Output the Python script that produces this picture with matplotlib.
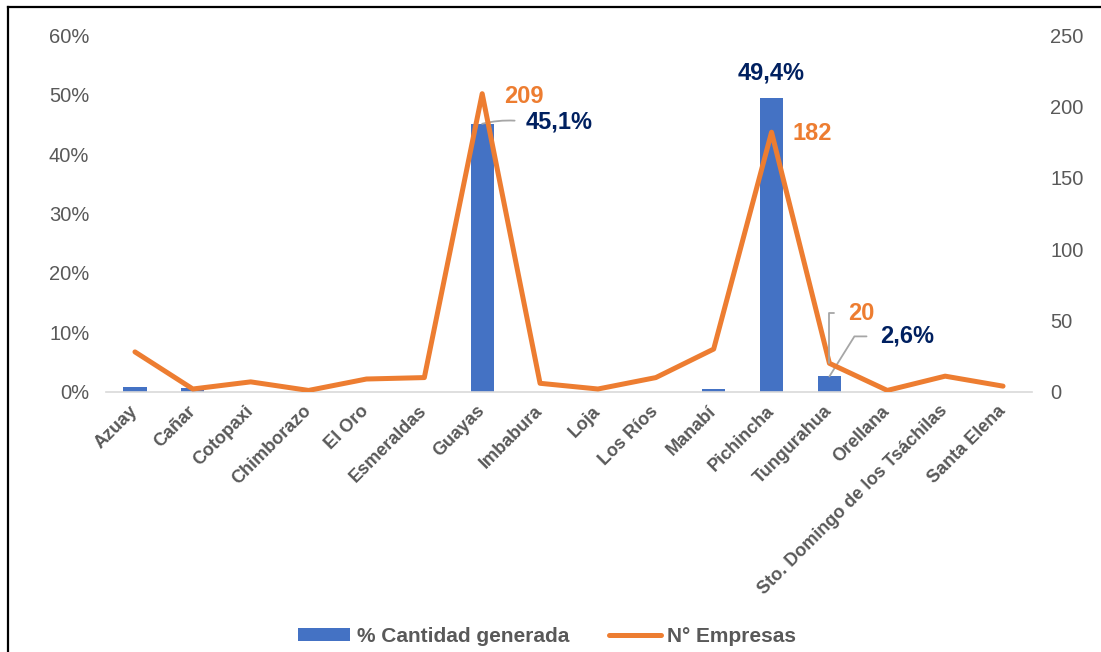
import matplotlib.pyplot as plt
from matplotlib.lines import Line2D
from matplotlib.ticker import FuncFormatter
import numpy as np

plt.rcParams['font.family'] = ['Liberation Sans', 'DejaVu Sans']

provincias = ['Azuay', 'Cañar', 'Cotopaxi', 'Chimborazo', 'El Oro', 'Esmeraldas',
              'Guayas', 'Imbabura', 'Loja', 'Los Ríos', 'Manabí', 'Pichincha',
              'Tungurahua', 'Orellana', 'Sto. Domingo de los Tsáchilas', 'Santa Elena']
pct_cantidad = [0.8, 0.6, 0.0, 0.0, 0.0, 0.0, 45.1, 0.0, 0.0, 0.0, 0.4, 49.4,
                2.6, 0.0, 0.0, 0.0]
n_empresas = [28, 2, 7, 1, 9, 10, 209, 6, 2, 10, 30, 182, 20, 1, 11, 4]

BLUE = '#4472C4'
ORANGE = '#ED7D31'
NAVY = '#002060'
GRAY = '#595959'
LEADER = '#A6A6A6'

fig = plt.figure(figsize=(11.01, 6.52), dpi=100)
ax = fig.add_axes([0.0963, 0.399, 0.841, 0.547])
ax2 = ax.twinx()

x = np.arange(len(provincias))
ax.bar(x, pct_cantidad, width=0.4, color=BLUE, zorder=2, label='% Cantidad generada')
ax2.plot(x, n_empresas, color=ORANGE, lw=3.6, solid_capstyle='round',
         solid_joinstyle='round', zorder=3, label='N° Empresas')

ax.set_xlim(-0.5, len(provincias) - 0.5)
ax.set_ylim(0, 60)
ax2.set_ylim(0, 250)
ax.set_yticks(range(0, 61, 10))
ax.yaxis.set_major_formatter(FuncFormatter(lambda v, p: f'{v:.0f}%'))
ax2.set_yticks(range(0, 251, 50))

for a in (ax, ax2):
    for s in a.spines.values():
        s.set_visible(False)
    a.tick_params(axis='y', length=0, labelsize=14.5, labelcolor=GRAY)
ax.tick_params(axis='y', pad=12)
ax2.tick_params(axis='y', pad=13)
ax.spines['bottom'].set_visible(True)
ax.spines['bottom'].set_color('#D9D9D9')
ax.spines['bottom'].set_linewidth(1.2)
ax.tick_params(axis='x', length=0, pad=12)
ax.set_xticks(x)
ax.set_xticklabels(provincias, rotation=45, ha='right', va='center',
                   rotation_mode='anchor', fontsize=13, fontweight='bold', color=GRAY)
ax2.set_zorder(ax.get_zorder() + 1)
ax2.patch.set_visible(False)

# etiquetas de datos
lbl = dict(fontsize=17, fontweight='bold', ha='center', va='center')
i_g, i_p, i_t = 6, 11, 12


def pct(v):
    return f'{v:.1f}%'.replace('.', ',')


ax2.annotate(str(n_empresas[i_g]), (i_g, n_empresas[i_g]), xytext=(42, -3),
             textcoords='offset pixels', color=ORANGE, **lbl)
ax.annotate(pct(pct_cantidad[i_g]), (i_g, pct_cantidad[i_g]),
            xytext=(77, 2), textcoords='offset pixels', color=NAVY,
            arrowprops=dict(arrowstyle='-', color=LEADER, lw=1.3, relpos=(0, 0.5),
                            shrinkA=6, shrinkB=0, connectionstyle='arc3,rad=0.1'), **lbl)
ax.annotate(pct(pct_cantidad[i_p]), (i_p, pct_cantidad[i_p]),
            xytext=(0, 25), textcoords='offset pixels', color=NAVY, **lbl)
ax2.annotate(str(n_empresas[i_p]), (i_p, n_empresas[i_p]), xytext=(41, -1),
             textcoords='offset pixels', color=ORANGE, **lbl)
ax2.annotate(str(n_empresas[i_t]), (i_t, n_empresas[i_t]), xytext=(32, 50),
             textcoords='offset pixels', color=ORANGE,
             arrowprops=dict(arrowstyle='-', color=LEADER, lw=1.3, relpos=(0, 0.5),
                             shrinkA=8, shrinkB=0,
                             connectionstyle='angle,angleA=0,angleB=90,rad=0'),
             **lbl)
ax.annotate(pct(pct_cantidad[i_t]), (i_t, pct_cantidad[i_t]),
            xytext=(78, 40), textcoords='offset pixels', color=NAVY,
            arrowprops=dict(arrowstyle='-', color=LEADER, lw=1.3, relpos=(0, 0.5),
                            shrinkA=8, shrinkB=0,
                            connectionstyle='angle,angleA=0,angleB=58,rad=0'),
            **lbl)

# leyenda
h1, l1 = ax.get_legend_handles_labels()
h2, l2 = ax2.get_legend_handles_labels()
leg = fig.legend(h1 + h2, l1 + l2, loc='center', bbox_to_anchor=(0.497, 0.024),
                 ncol=2, frameon=False, handlelength=2.5, handleheight=0.55,
                 handletextpad=0.3, columnspacing=1.9,
                 prop=dict(size=15, weight='bold'))
for t in leg.get_texts():
    t.set_color(GRAY)

# marco (solo izquierda y arriba visibles)
fig.add_artist(Line2D([0.0075, 0.0075], [0, 0.989], transform=fig.transFigure,
                      color='black', lw=1.6))
fig.add_artist(Line2D([0.0075, 1], [0.989, 0.989], transform=fig.transFigure,
                      color='black', lw=1.6))

fig.savefig('out.png', dpi=100)
